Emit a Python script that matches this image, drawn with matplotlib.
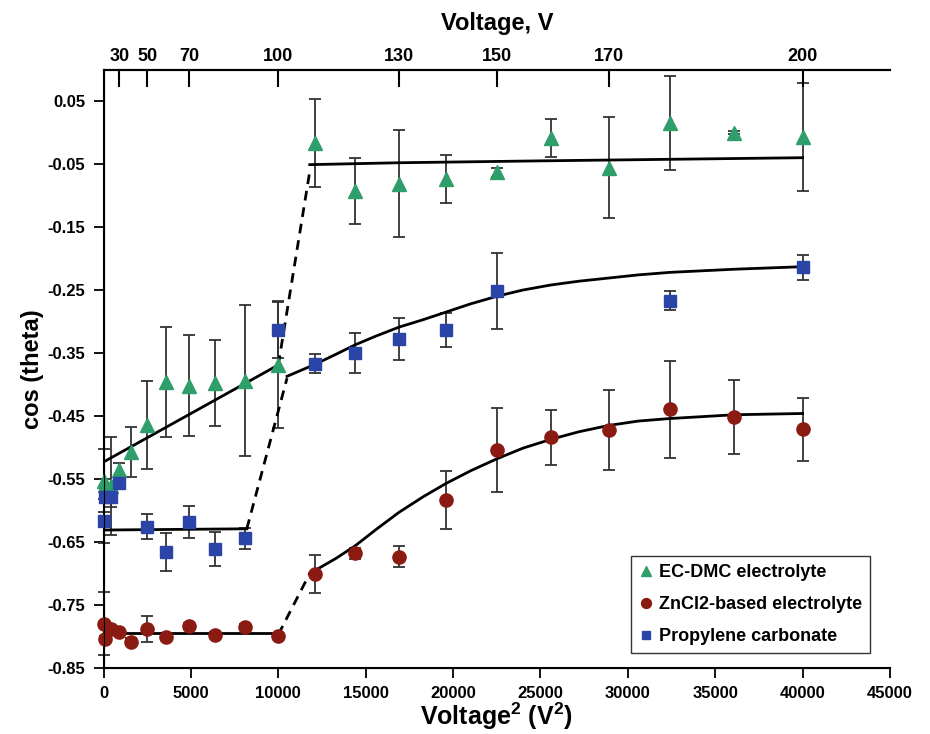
import numpy as np
import matplotlib
matplotlib.use('Agg')
from matplotlib import pyplot as plt

plt.rcParams['font.family'] = ['Liberation Sans', 'DejaVu Sans']
plt.rcParams['font.weight'] = 'bold'
plt.rcParams['mathtext.fontset'] = 'custom'
plt.rcParams['mathtext.rm'] = 'Liberation Sans:bold'
plt.rcParams['mathtext.bf'] = 'Liberation Sans:bold'
plt.rcParams['mathtext.it'] = 'Liberation Sans:bold:italic'

# EC-DMC electrolyte (green triangles)
green_x = [0, 100, 400, 900, 1600, 2500, 3600, 4900, 6400, 8100, 10000,
           12100, 14400, 16900, 19600, 22500, 25600, 28900, 32400, 36100, 40000]
green_y = [-0.553, -0.560, -0.561, -0.535, -0.507, -0.464, -0.396, -0.402, -0.398, -0.394, -0.369,
           -0.017, -0.093, -0.081, -0.074, -0.063, -0.009, -0.056, 0.015, 0.000, -0.007]
green_err = [0.05, 0.01, 0.078, 0.01, 0.04, 0.07, 0.087, 0.08, 0.068, 0.12, 0.1,
             0.07, 0.052, 0.085, 0.038, 0.007, 0.03, 0.08, 0.074, 0.003, 0.086]

# ZnCl2-based electrolyte (red circles)
red_x = [0, 100, 400, 900, 1600, 2500, 3600, 4900, 6400, 8100, 10000,
         12100, 14400, 16900, 19600, 22500, 25600, 28900, 32400, 36100, 40000]
red_y = [-0.780, -0.804, -0.788, -0.793, -0.808, -0.788, -0.800, -0.783, -0.798, -0.785, -0.799,
         -0.701, -0.668, -0.673, -0.584, -0.504, -0.484, -0.472, -0.439, -0.452, -0.471]
red_err = [0.05, 0.005, 0.005, 0.005, 0.005, 0.02, 0.005, 0.005, 0.005, 0.005, 0.005,
           0.03, 0.009, 0.016, 0.046, 0.066, 0.044, 0.064, 0.077, 0.059, 0.05]

# Propylene carbonate (blue squares)
blue_x = [0, 100, 400, 900, 2500, 3600, 4900, 6400, 8100, 10000,
          12100, 14400, 16900, 19600, 22500, 32400, 40000]
blue_y = [-0.617, -0.579, -0.579, -0.556, -0.626, -0.666, -0.618, -0.661, -0.644, -0.313,
          -0.367, -0.350, -0.328, -0.313, -0.252, -0.267, -0.214]
blue_err = [0.035, 0.005, 0.015, 0.005, 0.02, 0.03, 0.025, 0.027, 0.017, 0.045,
            0.015, 0.032, 0.033, 0.027, 0.06, 0.015, 0.02]

# fitted lines (solid) and jumps (dashed)
green_fit1_x = [0, 10000]
green_fit1_y = [-0.523, -0.369]
green_dash_x = [10000, 11800]
green_dash_y = [-0.369, -0.062]
green_fit2_x = [11800, 16900, 25000, 40000]
green_fit2_y = [-0.051, -0.048, -0.045, -0.040]

blue_fit1_x = [0, 8200]
blue_fit1_y = [-0.631, -0.629]
blue_dash_x = [8200, 10500]
blue_dash_y = [-0.629, -0.390]
blue_fit2_x = [10500, 12100, 13300, 14400, 15600, 16900, 18300, 19600, 21000, 22500,
               24000, 25600, 27200, 28900, 30600, 32400, 36100, 40000]
blue_fit2_y = [-0.387, -0.368, -0.352, -0.337, -0.323, -0.309, -0.297, -0.285, -0.272, -0.260,
               -0.250, -0.242, -0.236, -0.231, -0.226, -0.222, -0.217, -0.213]

red_fit1_x = [0, 10000]
red_fit1_y = [-0.794, -0.794]
red_dash_x = [10000, 11800]
red_dash_y = [-0.797, -0.700]
red_fit2_x = [11800, 13300, 14400, 15600, 16900, 18300, 19600, 21000, 22500, 24000,
              25600, 27200, 28900, 30600, 32400, 36100, 40000]
red_fit2_y = [-0.700, -0.676, -0.656, -0.630, -0.603, -0.578, -0.557, -0.537, -0.518, -0.501,
              -0.487, -0.475, -0.465, -0.458, -0.454, -0.448, -0.446]

y_ticks = [-0.85, -0.75, -0.65, -0.55, -0.45, -0.35, -0.25, -0.15, -0.05, 0.05]
x_ticks = [0, 5000, 10000, 15000, 20000, 25000, 30000, 35000, 40000, 45000]
top_volts = [30, 50, 70, 100, 130, 150, 170, 200]

green_c = '#2e9e6a'
red_c = '#8b1a12'
blue_c = '#2b44a8'

fig = plt.figure(figsize=(9.3, 7.34), dpi=100)
ax = fig.add_axes([0.1113, 0.0899, 0.8457, 0.8154])

ebk = dict(fmt='none', ecolor='#333333', elinewidth=1.3, capsize=4, capthick=1.3, zorder=2, clip_on=False)
ax.errorbar(green_x, green_y, yerr=green_err, **ebk)
ax.errorbar(red_x, red_y, yerr=red_err, **ebk)
ax.errorbar(blue_x, blue_y, yerr=blue_err, **ebk)

lk = dict(color='black', lw=2, zorder=3)
ax.plot(green_fit1_x, green_fit1_y, **lk)
ax.plot(green_fit2_x, green_fit2_y, **lk)
ax.plot(blue_fit1_x, blue_fit1_y, **lk)
ax.plot(blue_fit2_x, blue_fit2_y, **lk)
ax.plot(red_fit1_x, red_fit1_y, **lk)
ax.plot(red_fit2_x, red_fit2_y, **lk)
for dx, dy in [(green_dash_x, green_dash_y), (blue_dash_x, blue_dash_y), (red_dash_x, red_dash_y)]:
    ax.plot(dx, dy, color='black', lw=2, ls=(0, (3.5, 2.5)), zorder=3)

ax.plot(green_x, green_y, ls='none', marker='^', ms=10, color=green_c, mec=green_c,
        label='EC-DMC electrolyte', zorder=4, clip_on=False)
ax.plot(red_x, red_y, ls='none', marker='o', ms=9.5, color=red_c, mec=red_c,
        label='ZnCl2-based electrolyte', zorder=4, clip_on=False)
ax.plot(blue_x, blue_y, ls='none', marker='s', ms=8.5, color=blue_c, mec=blue_c,
        label='Propylene carbonate', zorder=4, clip_on=False)

ax.set_xlim(0, 45000)
ax.set_ylim(-0.85, 0.1)
ax.set_xticks(x_ticks)
ax.set_xticklabels([str(t) for t in x_ticks])
ax.set_yticks(y_ticks)
ax.set_yticklabels(['%.2f' % t for t in y_ticks])
ax.tick_params(axis='both', direction='out', length=7, width=1.3, labelsize=12, pad=6)
for s in ['left', 'bottom', 'top']:
    ax.spines[s].set_linewidth(1.5)
ax.spines['right'].set_visible(False)

ax.set_xlabel(r'Voltage$^{2}$ (V$^{2}$)', fontsize=18, fontweight='bold', labelpad=0)
ax.set_ylabel('cos (theta)', fontsize=17, fontweight='bold', labelpad=3)

leg = ax.legend(loc='lower right', bbox_to_anchor=(0.9746, 0.025), borderaxespad=0,
                fontsize=13, frameon=True, fancybox=False, edgecolor='black',
                handlelength=0.8, handletextpad=0.3, borderpad=0.45, labelspacing=0.83,
                markerscale=0.75)
leg.get_frame().set_linewidth(1.0)

# top axis with voltage scale
ax2 = ax.twiny()
ax2.set_xlim(ax.get_xlim())
ax2.set_xticks([v ** 2 for v in top_volts])
ax2.set_xticklabels([str(v) for v in top_volts], fontweight='bold')
ax2.tick_params(axis='x', direction='in', length=12, width=1.5, labelsize=13, pad=3)
ax2.spines['right'].set_visible(False)
ax2.spines['top'].set_linewidth(1.5)
ax2.set_xlabel('Voltage, V', fontsize=17, fontweight='bold', labelpad=13)

fig.savefig('out.png', dpi=100)
